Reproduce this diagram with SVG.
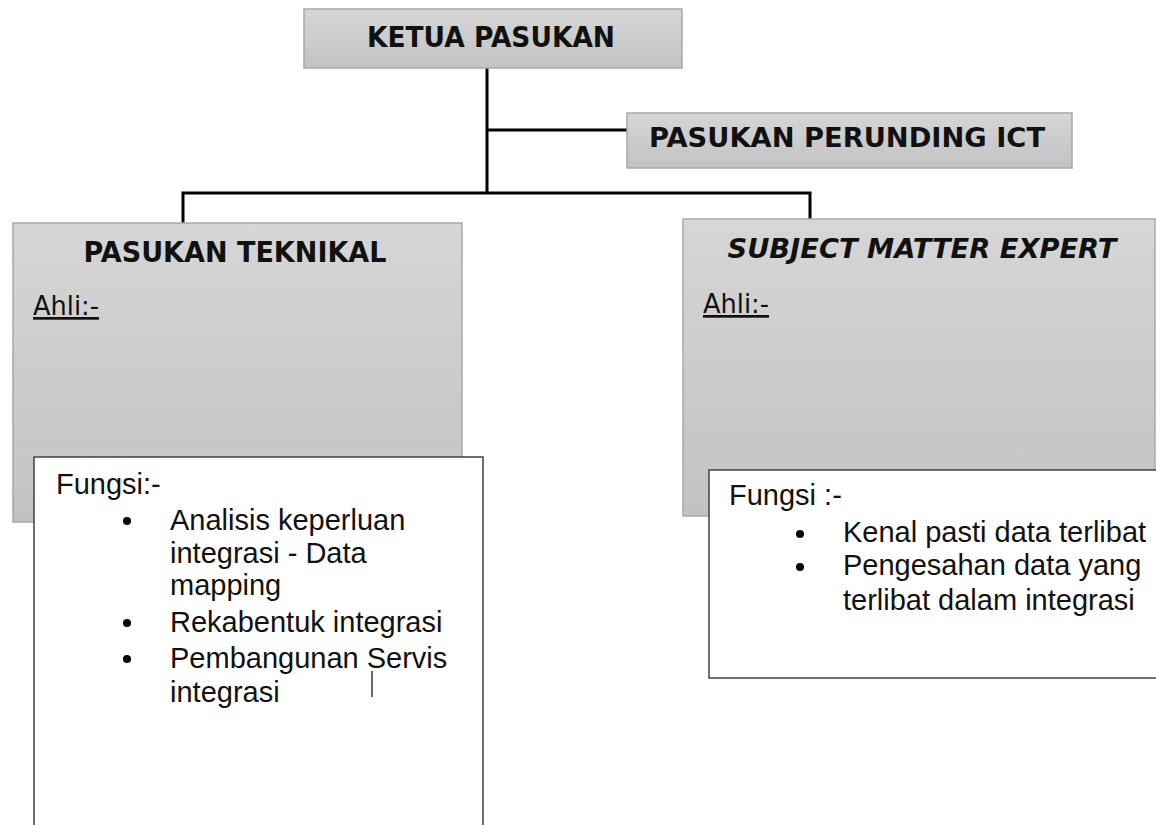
<svg xmlns="http://www.w3.org/2000/svg" width="1156" height="825" viewBox="0 0 1156 825">
<defs>
<linearGradient id="g" x1="0" y1="0" x2="0" y2="1">
<stop offset="0" stop-color="#d6d6d6"/>
<stop offset="1" stop-color="#c2c2c2"/>
</linearGradient>
<style>
.gbox{fill:url(#g);stroke:#a8a8a8;stroke-width:1.5}
.wbox{fill:#ffffff;stroke:#404040;stroke-width:1.5}
.title{font-family:"DejaVu Sans","Liberation Sans",sans-serif;font-weight:bold;fill:#111}
.body{font-family:"Liberation Sans",Arial,sans-serif;font-size:29px;fill:#111}
.ahli{font-family:"DejaVu Sans","Liberation Sans",sans-serif;font-size:27px;fill:#111;text-decoration:underline}
.conn{stroke:#000;stroke-width:3;fill:none}
</style>
</defs>
<rect width="1156" height="825" fill="#ffffff"/>
<g id="connectors">
<path class="conn" d="M487 68 V193"/>
<path class="conn" d="M487 130 H627"/>
<path class="conn" d="M183 223 V193 H810 V219"/>
</g>
<g id="ketua">
<rect class="gbox" x="304" y="9" width="378" height="59"/>
<text class="title" x="491" y="47" font-size="29" text-anchor="middle" textLength="248" lengthAdjust="spacingAndGlyphs">KETUA PASUKAN</text>
</g>
<g id="perunding">
<rect class="gbox" x="627" y="113" width="445" height="55"/>
<text class="title" x="847" y="147" font-size="26" text-anchor="middle" textLength="396" lengthAdjust="spacingAndGlyphs">PASUKAN PERUNDING ICT</text>
</g>
<g id="teknikal">
<rect class="gbox" x="13" y="223" width="449" height="299"/>
<text class="title" x="235" y="262" font-size="29" text-anchor="middle" textLength="303" lengthAdjust="spacingAndGlyphs">PASUKAN TEKNIKAL</text>
<text class="ahli" x="33" y="315" textLength="66" lengthAdjust="spacingAndGlyphs">Ahli:-</text>
</g>
<g id="teknikal-fungsi">
<rect class="wbox" x="34" y="457" width="449" height="380"/>
<text class="body" x="56" y="494">Fungsi:-</text>
<circle cx="127" cy="521" r="4" fill="#000"/>
<circle cx="127" cy="623" r="4" fill="#000"/>
<circle cx="127" cy="659" r="4" fill="#000"/>
<text class="body" x="170" y="530">Analisis keperluan</text>
<text class="body" x="170" y="563">integrasi - Data</text>
<text class="body" x="170" y="595">mapping</text>
<text class="body" x="170" y="632">Rekabentuk integrasi</text>
<text class="body" x="170" y="668">Pembangunan Servis</text>
<text class="body" x="170" y="702">integrasi</text>
<line x1="372" y1="671" x2="372" y2="697" stroke="#000" stroke-width="1.2"/>
</g>
<g id="sme">
<rect class="gbox" x="683" y="219" width="472" height="297"/>
<text class="title" x="922" y="258" font-size="27" font-style="italic" text-anchor="middle" textLength="389" lengthAdjust="spacingAndGlyphs">SUBJECT MATTER EXPERT</text>
<text class="ahli" x="703" y="313" textLength="66" lengthAdjust="spacingAndGlyphs">Ahli:-</text>
</g>
<g id="sme-fungsi">
<rect class="wbox" x="709" y="470" width="460" height="208" stroke="#808080"/>
<text class="body" x="729" y="505">Fungsi :-</text>
<circle cx="800" cy="534" r="4" fill="#000"/>
<circle cx="800" cy="567" r="4" fill="#000"/>
<text class="body" x="843" y="542">Kenal pasti data terlibat</text>
<text class="body" x="843" y="575">Pengesahan data yang</text>
<text class="body" x="843" y="610">terlibat dalam integrasi</text>
</g>
</svg>
